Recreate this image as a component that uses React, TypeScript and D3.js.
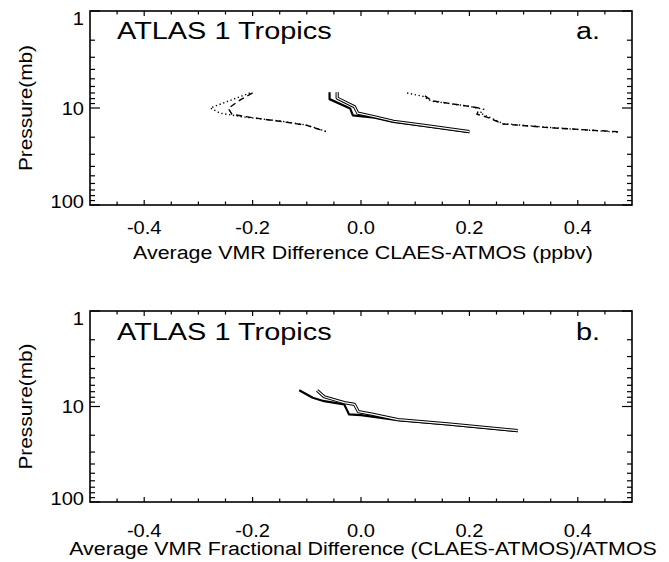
import React from "react";
import * as d3 from "d3";

// ---------- data (x = VMR difference, p = pressure in mb) ----------
const xTickValues = [-0.4, -0.2, 0.0, 0.2, 0.4];
const xTickLabels = ["-0.4", "-0.2", "0.0", "0.2", "0.4"];
const yTickValues = [1, 10, 100];
const yTickLabels = ["1", "10", "100"];

const panelTitles = ["ATLAS 1 Tropics", "ATLAS 1 Tropics"];
const panelLetters = ["a.", "b."];
const xAxisTitles = [
  "Average VMR Difference CLAES-ATMOS (ppbv)",
  "Average VMR Fractional Difference (CLAES-ATMOS)/ATMOS",
];
const yAxisTitle = "Pressure(mb)";

// Panel a
const aSolid: [number, number][] = [
  [-0.058, 6.9], [-0.058, 8.1], [-0.02, 10.1], [-0.015, 11.9], [0.025, 12.6],
  [0.06, 13.9], [0.12, 15.4], [0.2, 17.7],
];
const aDouble: [number, number][] = [
  [-0.044, 6.9], [-0.044, 7.9], [-0.012, 9.7], [-0.006, 11.3], [0.025, 12.3],
  [0.06, 13.7], [0.12, 15.2], [0.2, 17.5],
];
const aLeftDotted: [number, number][] = [
  [-0.205, 7.0], [-0.245, 8.5], [-0.278, 10.0], [-0.26, 11.3], [-0.22, 12.3],
  [-0.15, 13.6], [-0.1, 15.0], [-0.065, 17.4],
];
const aLeftDashed: [number, number][] = [
  [-0.2, 7.0], [-0.222, 8.2], [-0.245, 10.1], [-0.238, 11.6], [-0.2, 12.6],
  [-0.15, 13.7], [-0.1, 15.1], [-0.065, 17.5],
];
const aRightDotted: [number, number][] = [
  [0.085, 7.0], [0.115, 7.6], [0.13, 8.5], [0.2, 9.6], [0.226, 10.3],
  [0.22, 11.3], [0.235, 12.3], [0.262, 14.5], [0.35, 15.9], [0.476, 17.8],
];
const aRightDashed: [number, number][] = [
  [0.118, 7.5], [0.13, 8.4], [0.218, 10.0], [0.214, 11.6], [0.232, 12.4],
  [0.262, 14.6], [0.35, 16.0], [0.476, 17.6],
];

// Panel b
const bSolid: [number, number][] = [
  [-0.114, 6.77], [-0.089, 8.1], [-0.068, 8.8], [-0.031, 9.5], [-0.022, 12.1],
  [0.0, 12.3], [0.068, 13.9], [0.16, 15.4], [0.289, 18.1],
];
const bDouble: [number, number][] = [
  [-0.081, 6.77], [-0.068, 7.9], [-0.031, 9.1], [-0.012, 9.5], [-0.005, 11.3],
  [0.02, 12.0], [0.068, 13.7], [0.16, 15.2], [0.289, 17.9],
];

// ---------- layout ----------
const W = 669;
const H = 562;
const FONT = "'Liberation Sans', Arial, Helvetica, sans-serif";

type Series = { pts: [number, number][]; kind: "solid" | "double" | "dotted" | "dashed" };

const panels = [
  {
    top: 11, bottom: 205, tickBase: 234, titleBase: 258.5, headBase: 38.5,
    series: [
      { pts: aLeftDotted, kind: "dotted" },
      { pts: aLeftDashed, kind: "dashed" },
      { pts: aRightDotted, kind: "dotted" },
      { pts: aRightDashed, kind: "dashed" },
      { pts: aSolid, kind: "solid" },
      { pts: aDouble, kind: "double" },
    ] as Series[],
  },
  {
    top: 311, bottom: 502, tickBase: 537, titleBase: 555, headBase: 340,
    series: [
      { pts: bSolid, kind: "solid" },
      { pts: bDouble, kind: "double" },
    ] as Series[],
  },
];

const LEFT = 90;
const RIGHT = 632;

function SText(props: {
  x: number; y: number; size: number; sx: number; anchor?: string; rotate?: number;
  baseline?: string; children: React.ReactNode;
}) {
  const { x, y, size, sx, anchor = "start", rotate = 0, baseline, children } = props;
  return (
    <text
      transform={`translate(${x},${y}) rotate(${rotate}) scale(${sx},1)`}
      fontFamily={FONT}
      fontSize={size}
      textAnchor={anchor}
      dominantBaseline={baseline}
      fill="#000"
    >
      {children}
    </text>
  );
}

function Panel({ idx }: { idx: number }) {
  const p = panels[idx];
  const x = d3.scaleLinear().domain([-0.5, 0.5]).range([LEFT, RIGHT]);
  const y = d3.scaleLog().domain([1, 100]).range([p.top, p.bottom]);
  const line = d3
    .line<[number, number]>()
    .x((d) => x(d[0]))
    .y((d) => y(d[1]));

  const xMinor = d3.range(-0.45, 0.5, 0.05).map((v) => Math.round(v * 100) / 100);
  const yMinor: number[] = [];
  [1, 10].forEach((dec) => {
    for (let k = 2; k <= 9; k++) yMinor.push(dec * k);
  });

  return (
    <g>
      {/* series */}
      {p.series.map((s, i) => {
        const d = line(s.pts) || "";
        if (s.kind === "solid")
          return <path key={i} d={d} fill="none" stroke="#000" strokeWidth={2.2} strokeLinejoin="round" />;
        if (s.kind === "double")
          return (
            <g key={i}>
              <path d={d} fill="none" stroke="#000" strokeWidth={3.2} strokeLinejoin="round" />
              <path d={d} fill="none" stroke="#fff" strokeWidth={1.2} strokeLinejoin="round" />
            </g>
          );
        if (s.kind === "dotted")
          return <path key={i} d={d} fill="none" stroke="#000" strokeWidth={1.4} strokeDasharray="1.3,2.6" />;
        return <path key={i} d={d} fill="none" stroke="#000" strokeWidth={1.4} strokeDasharray="6,4" />;
      })}

      {/* box */}
      <rect x={LEFT} y={p.top} width={RIGHT - LEFT} height={p.bottom - p.top} fill="none" stroke="#000" strokeWidth={1.6} />

      {/* x ticks */}
      {xMinor.map((v, i) => {
        const major = xTickValues.some((t) => Math.abs(t - v) < 1e-6);
        const len = major ? 5 : 3.5;
        return (
          <g key={i}>
            <line x1={x(v)} x2={x(v)} y1={p.bottom} y2={p.bottom - len} stroke="#000" strokeWidth={1.2} />
            <line x1={x(v)} x2={x(v)} y1={p.top} y2={p.top + len} stroke="#000" strokeWidth={1.2} />
          </g>
        );
      })}
      {/* y ticks */}
      {yMinor.map((v, i) => (
        <g key={i}>
          <line x1={LEFT} x2={LEFT + 5} y1={y(v)} y2={y(v)} stroke="#000" strokeWidth={1.2} />
          <line x1={RIGHT} x2={RIGHT - 5} y1={y(v)} y2={y(v)} stroke="#000" strokeWidth={1.2} />
        </g>
      ))}
      {yTickValues.map((v, i) => (
        <g key={"M" + i}>
          <line x1={LEFT} x2={LEFT + 10} y1={y(v)} y2={y(v)} stroke="#000" strokeWidth={1.2} />
          <line x1={RIGHT} x2={RIGHT - 10} y1={y(v)} y2={y(v)} stroke="#000" strokeWidth={1.2} />
        </g>
      ))}

      {/* y tick labels */}
      {yTickValues.map((v, i) => {
        const yy = Math.min(Math.max(y(v), p.top + 7), p.bottom - 4);
        return (
          <SText key={i} x={84} y={yy + 6.7} size={18.6} sx={1.08} anchor="end">
            {yTickLabels[i]}
          </SText>
        );
      })}
      {/* x tick labels */}
      {xTickValues.map((v, i) => (
        <SText key={i} x={x(v)} y={p.tickBase} size={18.6} sx={1.08} anchor="middle">
          {xTickLabels[i]}
        </SText>
      ))}

      {/* titles */}
      <SText x={(LEFT + RIGHT) / 2 + 2} y={p.titleBase} size={18.6} sx={1.15} anchor="middle">
        {xAxisTitles[idx]}
      </SText>
      <SText x={32} y={(p.top + p.bottom) / 2} size={18.6} sx={1.12} anchor="middle" rotate={-90}>
        {yAxisTitle}
      </SText>
      <SText x={117} y={p.headBase} size={24.7} sx={1.17}>
        {panelTitles[idx]}
      </SText>
      <SText x={600} y={p.headBase} size={24.7} sx={1.17} anchor="end">
        {panelLetters[idx]}
      </SText>
    </g>
  );
}

export default function App() {
  return (
    <svg
      width={W}
      height={H}
      viewBox={`0 0 ${W} ${H}`}
      style={{ position: "absolute", left: 0, top: 0, background: "#fff" }}
    >
      <rect x={0} y={0} width={W} height={H} fill="#fff" />
      <Panel idx={0} />
      <Panel idx={1} />
    </svg>
  );
}
